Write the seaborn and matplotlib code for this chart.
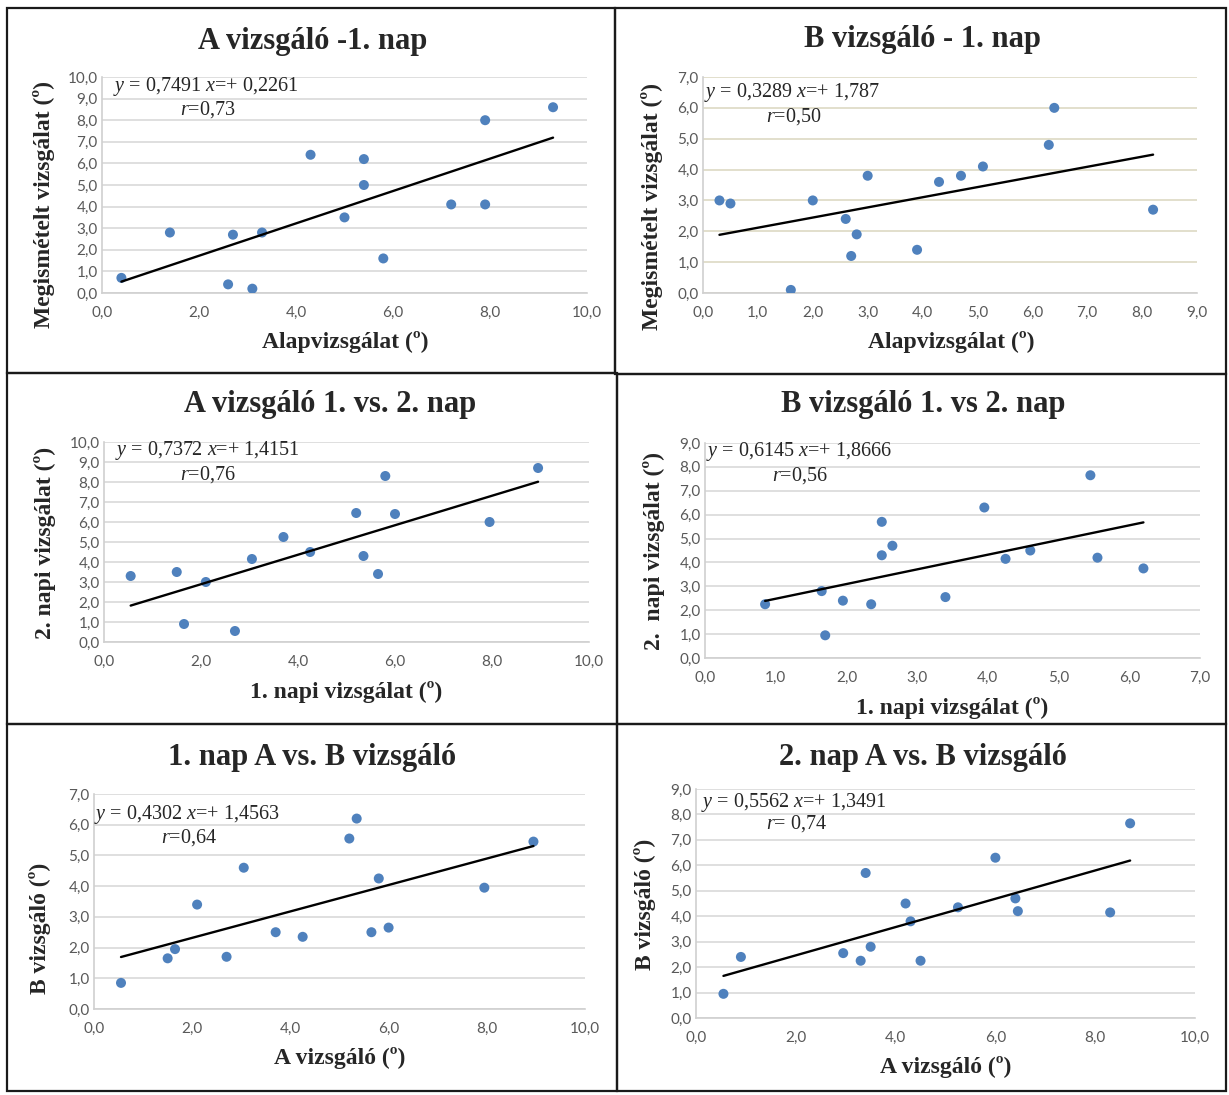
import matplotlib
matplotlib.use('Agg')
import numpy as np
import matplotlib.pyplot as plt
from matplotlib.patches import Rectangle
from matplotlib.ticker import FuncFormatter, MultipleLocator
import seaborn as sns

W, H = 1229, 1095

# ---- data ----
titles = ['A vizsgáló -1. nap', 'B vizsgáló - 1. nap',
          'A vizsgáló 1. vs. 2. nap', 'B vizsgáló 1. vs 2. nap',
          '1. nap A vs. B vizsgáló', '2. nap A vs. B vizsgáló']
xlabels = ['Alapvizsgálat (º)', 'Alapvizsgálat (º)',
           '1. napi vizsgálat (º)', '1. napi vizsgálat (º)',
           'A vizsgáló (º)', 'A vizsgáló (º)']
ylabels = ['Megismételt vizsgálat (º)', 'Megismételt vizsgálat (º)',
           '2. napi vizsgálat (º)', '2.  napi vizsgálat (º)',
           'B vizsgáló (º)', 'B vizsgáló (º)']

a_day1_x = [0.4, 1.4, 2.6, 2.7, 3.1, 3.3, 4.3, 5.0, 5.4, 5.4, 5.8, 7.2, 7.9, 7.9, 9.3]
a_day1_y = [0.7, 2.8, 0.4, 2.7, 0.2, 2.8, 6.4, 3.5, 6.2, 5.0, 1.6, 4.1, 8.0, 4.1, 8.6]

b_day1_x = [0.3, 0.5, 1.6, 2.0, 2.6, 2.7, 2.8, 3.0, 3.9, 4.3, 4.7, 5.1, 6.3, 6.4, 8.2]
b_day1_y = [3.0, 2.9, 0.1, 3.0, 2.4, 1.2, 1.9, 3.8, 1.4, 3.6, 3.8, 4.1, 4.8, 6.0, 2.7]

a_days_x = [0.55, 1.5, 1.65, 2.1, 2.7, 3.05, 3.7, 4.25, 5.2, 5.35, 5.65, 5.8, 6.0, 7.95, 8.95]
a_days_y = [3.3, 3.5, 0.9, 3.0, 0.55, 4.15, 5.25, 4.5, 6.45, 4.3, 3.4, 8.3, 6.4, 6.0, 8.7]

b_days_x = [0.85, 1.65, 1.7, 1.95, 2.35, 2.5, 2.5, 2.65, 3.4, 3.95, 4.25, 4.6, 5.45, 5.55, 6.2]
b_days_y = [2.25, 2.8, 0.95, 2.4, 2.25, 4.3, 5.7, 4.7, 2.55, 6.3, 4.15, 4.5, 7.65, 4.2, 3.75]

day1_ab_x = [0.55, 1.5, 1.65, 2.1, 2.7, 3.05, 3.7, 4.25, 5.2, 5.35, 5.65, 5.8, 6.0, 7.95, 8.95]
day1_ab_y = [0.85, 1.65, 1.95, 3.4, 1.7, 4.6, 2.5, 2.35, 5.55, 6.2, 2.5, 4.25, 2.65, 3.95, 5.45]

day2_ab_x = [0.55, 0.9, 2.95, 3.3, 3.4, 3.5, 4.2, 4.3, 4.5, 5.25, 6.0, 6.4, 6.45, 8.3, 8.7]
day2_ab_y = [0.95, 2.4, 2.55, 2.25, 5.7, 2.8, 4.5, 3.8, 2.25, 4.35, 6.3, 4.7, 4.2, 4.15, 7.65]

xs_all = [a_day1_x, b_day1_x, a_days_x, b_days_x, day1_ab_x, day2_ab_x]
ys_all = [a_day1_y, b_day1_y, a_days_y, b_days_y, day1_ab_y, day2_ab_y]

slopes = [0.7491, 0.3289, 0.7372, 0.6145, 0.4302, 0.5562]
intercepts = [0.2261, 1.787, 1.4151, 1.8666, 1.4563, 1.3491]
slope_txt = ['0,7491', '0,3289', '0,7372', '0,6145', '0,4302', '0,5562']
icpt_txt = ['0,2261', '1,787', '1,4151', '1,8666', '1,4563', '1,3491']
r_txt = ['=0,73', '=0,50', '=0,76', '=0,56', '=0,64', '= 0,74']
x_max = [10, 9, 10, 7, 10, 10]
x_step = [2, 1, 2, 1, 2, 2]
y_max = [10, 7, 10, 9, 7, 9]

# ---- layout in reference pixels ----
boxes = [(7, 8, 615, 373), (615, 8, 1226, 374), (7, 373, 617, 724),
         (617, 374, 1226, 724), (7, 724, 617, 1091), (617, 724, 1226, 1091)]
plot_areas = [(102, 77, 587, 293), (703, 77, 1197, 293), (104, 442, 589, 642),
              (705, 443, 1200, 658), (94, 794, 585, 1009), (696, 789, 1195, 1018)]
title_pos = [(313, 41), (922, 40), (330, 405), (923, 405), (312, 757), (923, 757)]
xlabel_pos = [(345, 342), (951, 342), (346, 692), (952, 708), (340, 1058), (946, 1067)]
ylabel_pos = [(44, 205), (652, 206), (45, 543), (654, 551), (40, 928), (645, 904)]
eq_pos = [(113, 86), (704, 92), (115, 451), (706, 452), (94, 814), (701, 802)]
r_pos = [(180, 110), (766, 117), (180, 475), (772, 476), (161, 838), (766, 824)]
grid_colors = ['#d9d9d9', '#ddd9c3', '#d9d9d9', '#d9d9d9', '#d9d9d9', '#d9d9d9']

sns.set_theme(style='white')
plt.rcParams['font.family'] = ['Liberation Serif', 'DejaVu Serif']
plt.rcParams['mathtext.fontset'] = 'custom'
plt.rcParams['mathtext.rm'] = 'Liberation Serif'
plt.rcParams['mathtext.it'] = 'Liberation Serif:italic'


def fx(px):
    return px / W


def fy(py):
    return 1 - py / H


comma = FuncFormatter(lambda v, _: f'{v:.1f}'.replace('.', ','))

fig = plt.figure(figsize=(W / 100, H / 100), dpi=100)

for i in range(6):
    x0, y0, x1, y1 = boxes[i]
    fig.patches.append(Rectangle((fx(x0), fy(y1)), fx(x1) - fx(x0), fy(y0) - fy(y1),
                                 transform=fig.transFigure, fill=False,
                                 edgecolor='#1a1a1a', linewidth=1.6))

    l, t, r, b = plot_areas[i]
    ax = fig.add_axes([fx(l), fy(b), fx(r) - fx(l), fy(t) - fy(b)])

    sns.scatterplot(x=xs_all[i], y=ys_all[i], ax=ax, color='#4f81bd', s=52,
                    edgecolor='none', zorder=3)
    line_x = np.array([min(xs_all[i]), max(xs_all[i])])
    sns.lineplot(x=line_x, y=slopes[i] * line_x + intercepts[i], ax=ax,
                 color='black', linewidth=1.7, zorder=4)

    ax.set_xlim(0, x_max[i])
    ax.set_ylim(0, y_max[i])
    ax.xaxis.set_major_locator(MultipleLocator(x_step[i]))
    ax.yaxis.set_major_locator(MultipleLocator(1))
    ax.xaxis.set_major_formatter(comma)
    ax.yaxis.set_major_formatter(comma)
    ax.grid(axis='y', color=grid_colors[i], linewidth=1.2)
    ax.set_axisbelow(True)
    for side in ['top', 'right']:
        ax.spines[side].set_visible(False)
    for side in ['left', 'bottom']:
        ax.spines[side].set_color('#d0d0d0')
        ax.spines[side].set_linewidth(1.2)
    ax.tick_params(length=0, labelcolor='#595959', labelsize=11)
    ax.tick_params(axis='x', pad=9)
    ax.tick_params(axis='y', pad=3)
    for lab in ax.get_xticklabels() + ax.get_yticklabels():
        lab.set_fontfamily(['Lato', 'DejaVu Sans'])
    ax.set_xlabel('')
    ax.set_ylabel('')

    tx, ty = title_pos[i]
    fig.text(fx(tx), fy(ty), titles[i], ha='center', va='center',
             fontsize=22, fontweight='bold')
    lx, ly = xlabel_pos[i]
    fig.text(fx(lx), fy(ly), xlabels[i], ha='center', va='center',
             fontsize=17, fontweight='bold')
    vx, vy = ylabel_pos[i]
    fig.text(fx(vx), fy(vy), ylabels[i], ha='center', va='center',
             fontsize=17, fontweight='bold', rotation=90)
    ex, ey = eq_pos[i]
    fig.text(fx(ex), fy(ey), f'$y$ = {slope_txt[i]} $x$=+ {icpt_txt[i]}',
             ha='left', va='center', fontsize=14.5)
    rx, ry = r_pos[i]
    fig.text(fx(rx), fy(ry), f'$r${r_txt[i]}', ha='left', va='center', fontsize=14.5)

fig.savefig('out.png', dpi=100, facecolor='white')
